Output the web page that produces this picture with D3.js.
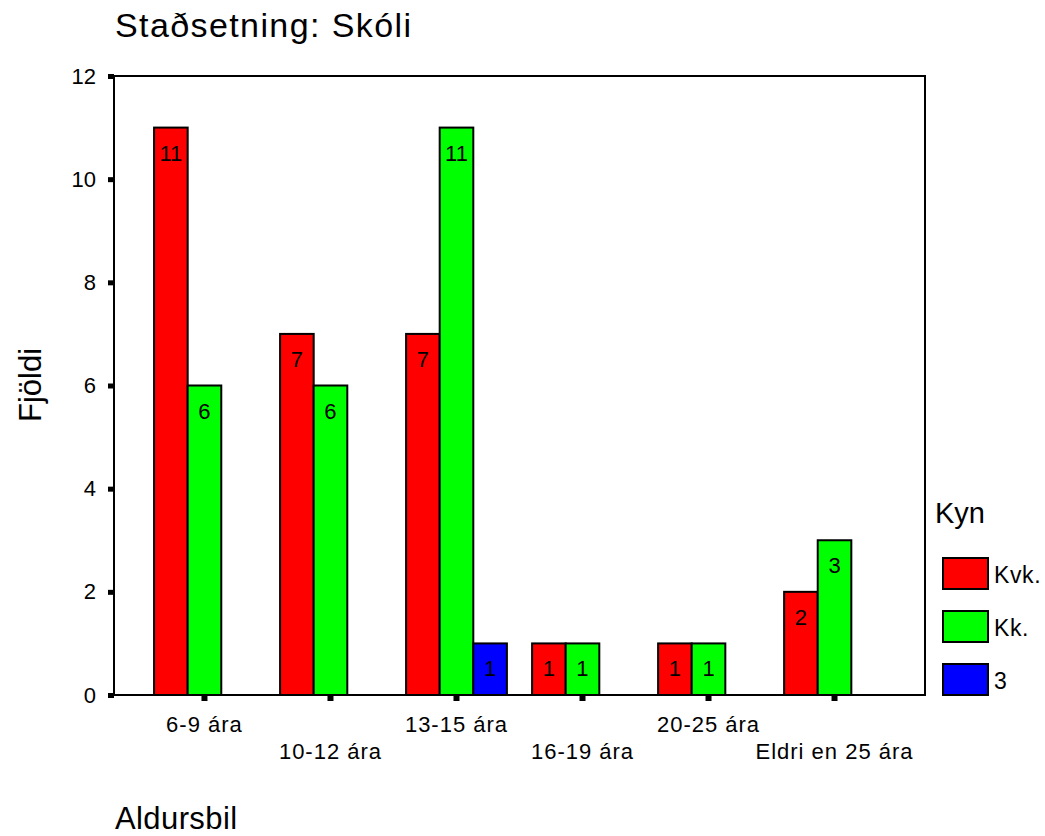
<!DOCTYPE html>
<html>
<head>
<meta charset="utf-8">
<script src="https://cdn.jsdelivr.net/npm/d3@7"></script>
<style>
  body { margin: 0; background: #fff; }
  text { font-family: Arial, "Liberation Sans", sans-serif; fill: #000; }
</style>
</head>
<body>
<svg id="chart" width="1045" height="836"></svg>
<script>
const categories = ["6-9 ára", "10-12 ára", "13-15 ára", "16-19 ára", "20-25 ára", "Eldri en 25 ára"];
const seriesNames = ["Kvk.", "Kk.", "3"];
const kvkValues = [11, 7, 7, 1, 1, 2];
const kkValues = [6, 6, 11, 1, 1, 3];
const thirdValues = [0, 0, 1, 0, 0, 0];
const yTicks = [0, 2, 4, 6, 8, 10, 12];
const colors = ["#ff0000", "#00ff00", "#0000ff"];

(function () {
const seriesValues = [kvkValues, kkValues, thirdValues];
const data = categories.map((c, i) => ({
  cat: c,
  vals: seriesNames.map((s, j) => ({ key: s, value: seriesValues[j][i] }))
}));

const svg = d3.select("#chart");
const pL = 114, pR = 925, pT = 76, pB = 695;

const x0 = d3.scaleBand().domain(categories).range([pL, pR]).paddingInner(0.2).paddingOuter(0.318);
const x1 = d3.scaleBand().domain(seriesNames).range([0, x0.bandwidth()]).padding(0);
const y = d3.scaleLinear().domain([0, 12]).range([pB, pT]);
const color = d3.scaleOrdinal().domain(seriesNames).range(colors);

// title
svg.append("text").attr("x", 115).attr("y", 37).style("font-size", "34px")
  .style("letter-spacing", "1.4px").text("Staðsetning: Skóli");

// frame
svg.append("rect").attr("x", pL).attr("y", pT).attr("width", pR - pL).attr("height", pB - pT)
  .attr("fill", "none").attr("stroke", "#000").attr("stroke-width", 2);

// bars
const groups = svg.append("g").selectAll("g").data(data).join("g")
  .attr("transform", d => `translate(${x0(d.cat)},0)`);
groups.selectAll("rect").data(d => d.vals.filter(v => v.value > 0)).join("rect")
  .attr("x", d => x1(d.key))
  .attr("y", d => y(d.value))
  .attr("width", x1.bandwidth())
  .attr("height", d => y(0) - y(d.value))
  .attr("fill", d => color(d.key))
  .attr("stroke", "#000").attr("stroke-width", 2);
groups.selectAll("text").data(d => d.vals.filter(v => v.value > 0)).join("text")
  .attr("x", d => x1(d.key) + x1.bandwidth() / 2)
  .attr("y", d => y(d.value) + 33)
  .attr("text-anchor", "middle")
  .style("font-size", "22px")
  .text(d => d.value);

// y axis
const yAxis = d3.axisLeft(y).tickValues(yTicks).tickSize(0).tickPadding(18);
const ya = svg.append("g").attr("transform", `translate(${pL},0)`).call(yAxis);
ya.select(".domain").remove();
ya.selectAll("text").style("font-size", "22px").attr("font-family", null);
ya.selectAll(".tick").append("rect").attr("x", -6).attr("y", -2.5).attr("width", 6).attr("height", 5).attr("fill", "#000");

// x axis
const xAxis = d3.axisBottom(x0).tickSize(0).tickPadding(0);
const xa = svg.append("g").attr("transform", `translate(0,${pB})`).call(xAxis);
xa.select(".domain").remove();
xa.selectAll(".tick text").attr("dy", null).attr("y", (d, i) => i % 2 === 0 ? 37 : 64)
  .style("font-size", "22px").style("letter-spacing", "1px").attr("font-family", null);
xa.selectAll(".tick").append("rect").attr("x", -3).attr("y", 0).attr("width", 6).attr("height", 6).attr("fill", "#000");

// axis titles
svg.append("text").attr("transform", "translate(41,385) rotate(-90)").attr("text-anchor", "middle")
  .style("font-size", "31px").text("Fjöldi");
svg.append("text").attr("x", 115).attr("y", 829).style("font-size", "31px")
  .style("letter-spacing", "0.4px").text("Aldursbil");

// legend
svg.append("text").attr("x", 935).attr("y", 523).style("font-size", "29px").text("Kyn");
const leg = svg.append("g").selectAll("g").data(seriesNames).join("g")
  .attr("transform", (d, i) => `translate(943,${558 + i * 53})`);
leg.append("rect").attr("width", 45).attr("height", 31).attr("fill", d => color(d))
  .attr("stroke", "#000").attr("stroke-width", 2);
leg.append("text").attr("x", 51).attr("y", 25).style("font-size", "23px")
  .style("letter-spacing", "0.6px").text(d => d);
})();
</script>
</body>
</html>
